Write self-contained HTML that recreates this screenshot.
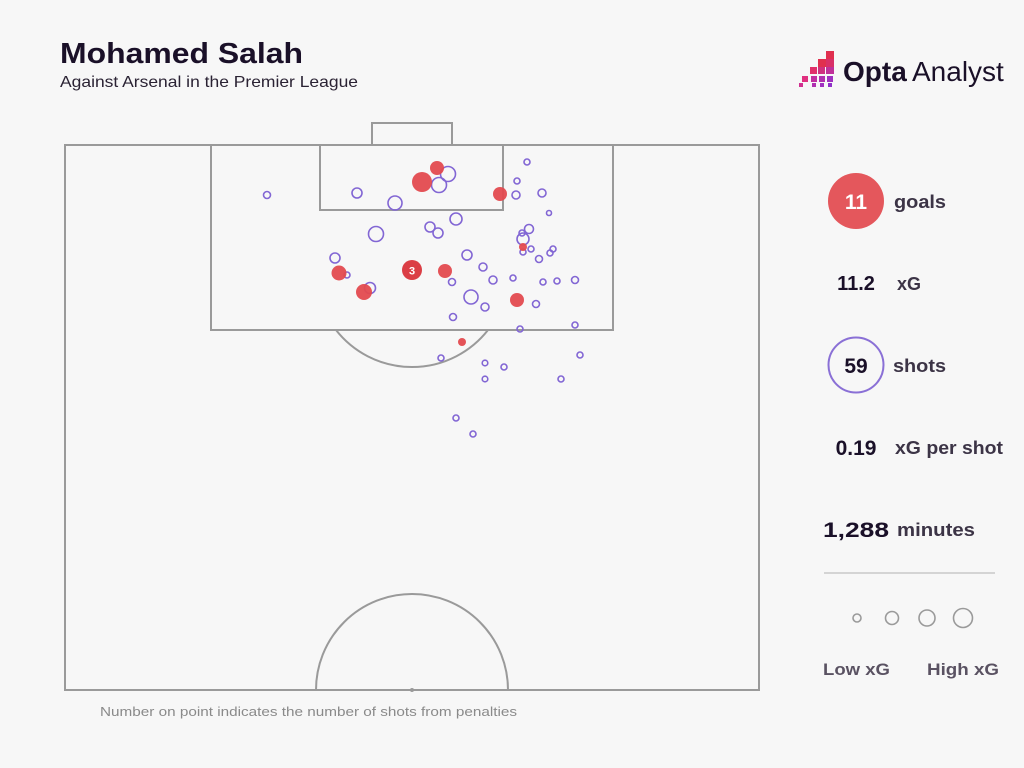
<!DOCTYPE html>
<html><head><meta charset="utf-8"><style>
body{margin:0;background:#f7f7f7;width:1024px;height:768px;overflow:hidden;font-family:"Liberation Sans",sans-serif;}
</style></head><body>
<svg width="1024" height="768" xmlns="http://www.w3.org/2000/svg" style="position:absolute;left:0;top:0">
<rect width="1024" height="768" fill="#f7f7f7"/>
<text x="60" y="63" font-size="29" font-weight="bold" fill="#1a1028" font-family="Liberation Sans" textLength="243" lengthAdjust="spacingAndGlyphs">Mohamed Salah</text>
<text x="60" y="87" font-size="16" fill="#2a2233" font-family="Liberation Sans" textLength="298" lengthAdjust="spacingAndGlyphs">Against Arsenal in the Premier League</text>
<g>
<rect x="826" y="51" width="8" height="8" fill="#e0304f"/>
<rect x="818" y="59" width="8" height="8" fill="#e0304f"/><rect x="826" y="59" width="8" height="8" fill="#d93068"/>
<rect x="810" y="67" width="7" height="7" fill="#e0306a"/><rect x="818" y="67" width="7" height="7" fill="#cf3080"/><rect x="826" y="67" width="8" height="7" fill="#c0309a"/>
<rect x="802" y="76" width="6" height="6" fill="#e03080"/><rect x="811" y="76" width="6" height="6" fill="#c030a0"/><rect x="819" y="76" width="6" height="6" fill="#b030b0"/><rect x="827" y="76" width="6" height="6" fill="#a030c0"/>
<rect x="799" y="83" width="4" height="4" fill="#d03090"/><rect x="812" y="83" width="4" height="4" fill="#b030b0"/><rect x="820" y="83" width="4" height="4" fill="#a030c0"/><rect x="828" y="83" width="4" height="4" fill="#9030c8"/>
</g>
<text x="843" y="81" font-size="28" font-weight="bold" fill="#1a1028" font-family="Liberation Sans">Opta</text>
<text x="912" y="81" font-size="28" fill="#1a1028" font-family="Liberation Sans">Analyst</text>
<g fill="none" stroke="#9a9a9a" stroke-width="2">
<rect x="65" y="145" width="694" height="545"/>
<rect x="211" y="145" width="402" height="185"/>
<rect x="320" y="145" width="183" height="65"/>
<rect x="372" y="123" width="80" height="22"/>
<path d="M336 330 A96.5 96.5 0 0 0 488 330"/>
<path d="M316 690 A96 96 0 0 1 508 690"/>
</g>
<circle cx="412" cy="690" r="2" fill="#9a9a9a"/>
<g fill="none" stroke="#8266d4" stroke-width="1.6">
<circle cx="267" cy="195" r="3.5"/><circle cx="357" cy="193" r="5"/><circle cx="395" cy="203" r="7"/>
<circle cx="448" cy="174" r="7.5"/><circle cx="439" cy="185" r="7.5"/><circle cx="527" cy="162" r="3"/>
<circle cx="517" cy="181" r="3"/><circle cx="516" cy="195" r="4"/><circle cx="542" cy="193" r="4"/>
<circle cx="549" cy="213" r="2.5"/><circle cx="456" cy="219" r="6"/><circle cx="430" cy="227" r="5"/>
<circle cx="438" cy="233" r="5"/><circle cx="376" cy="234" r="7.5"/><circle cx="529" cy="229" r="4.5"/>
<circle cx="522" cy="233" r="3"/><circle cx="523" cy="239" r="6"/><circle cx="531" cy="249" r="3"/>
<circle cx="523" cy="252" r="3"/><circle cx="553" cy="249" r="3"/><circle cx="550" cy="253" r="3"/>
<circle cx="539" cy="259" r="3.5"/><circle cx="467" cy="255" r="5"/><circle cx="335" cy="258" r="5"/>
<circle cx="483" cy="267" r="4"/><circle cx="347" cy="275" r="3"/><circle cx="452" cy="282" r="3.5"/>
<circle cx="493" cy="280" r="4"/><circle cx="513" cy="278" r="3"/><circle cx="543" cy="282" r="3"/>
<circle cx="557" cy="281" r="3"/><circle cx="575" cy="280" r="3.5"/><circle cx="370" cy="288" r="5.5"/>
<circle cx="471" cy="297" r="7"/><circle cx="485" cy="307" r="4"/><circle cx="536" cy="304" r="3.5"/>
<circle cx="453" cy="317" r="3.5"/><circle cx="520" cy="329" r="3"/><circle cx="575" cy="325" r="3"/>
<circle cx="580" cy="355" r="3"/><circle cx="441" cy="358" r="3"/><circle cx="485" cy="363" r="2.8"/>
<circle cx="504" cy="367" r="3"/><circle cx="485" cy="379" r="2.8"/><circle cx="561" cy="379" r="3"/>
<circle cx="456" cy="418" r="3"/><circle cx="473" cy="434" r="3"/>
</g>
<g fill="#e34a4f" fill-opacity="0.95">
<circle cx="422" cy="182" r="10"/><circle cx="437" cy="168" r="7"/><circle cx="500" cy="194" r="7"/>
<circle cx="523" cy="247" r="4"/><circle cx="339" cy="273" r="7.5"/><circle cx="364" cy="292" r="8"/>
<circle cx="445" cy="271" r="7"/><circle cx="517" cy="300" r="7"/><circle cx="462" cy="342" r="4"/>
<circle cx="412" cy="270" r="10" fill="#d9343b"/>
</g>
<text x="412" y="274.5" font-size="11" font-weight="bold" fill="#fff" text-anchor="middle" font-family="Liberation Sans">3</text>
<text x="100" y="716" font-size="13" fill="#8a8a8a" font-family="Liberation Sans" textLength="417" lengthAdjust="spacingAndGlyphs">Number on point indicates the number of shots from penalties</text>
<circle cx="856" cy="201" r="28" fill="#e4575c"/>
<text x="856" y="209" font-size="21" font-weight="bold" fill="#fff" text-anchor="middle" font-family="Liberation Sans">11</text>
<text x="894" y="208" font-size="18" font-weight="bold" fill="#3c3446" font-family="Liberation Sans" textLength="52" lengthAdjust="spacingAndGlyphs">goals</text>
<text x="856" y="290" font-size="20" font-weight="bold" fill="#1a1028" text-anchor="middle" font-family="Liberation Sans">11.2</text>
<text x="897" y="290" font-size="18" font-weight="bold" fill="#3c3446" font-family="Liberation Sans">xG</text>
<circle cx="856" cy="365" r="27.5" fill="none" stroke="#8a70d6" stroke-width="2"/>
<text x="856" y="373" font-size="21" font-weight="bold" fill="#1a1028" text-anchor="middle" font-family="Liberation Sans">59</text>
<text x="893" y="372" font-size="18" font-weight="bold" fill="#3c3446" font-family="Liberation Sans" textLength="53" lengthAdjust="spacingAndGlyphs">shots</text>
<text x="856" y="455" font-size="21" font-weight="bold" fill="#1a1028" text-anchor="middle" font-family="Liberation Sans">0.19</text>
<text x="895" y="454" font-size="18" font-weight="bold" fill="#3c3446" font-family="Liberation Sans" textLength="108" lengthAdjust="spacingAndGlyphs">xG per shot</text>
<text x="856" y="537" font-size="21" font-weight="bold" fill="#1a1028" text-anchor="middle" font-family="Liberation Sans" textLength="66" lengthAdjust="spacingAndGlyphs">1,288</text>
<text x="897" y="536" font-size="18" font-weight="bold" fill="#3c3446" font-family="Liberation Sans" textLength="78" lengthAdjust="spacingAndGlyphs">minutes</text>
<line x1="824" y1="573" x2="995" y2="573" stroke="#c8c8c8" stroke-width="1.5"/>
<g fill="none" stroke="#9a9a9a" stroke-width="1.6">
<circle cx="857" cy="618" r="4"/><circle cx="892" cy="618" r="6.5"/><circle cx="927" cy="618" r="8"/><circle cx="963" cy="618" r="9.5"/>
</g>
<text x="823" y="675" font-size="17" font-weight="bold" fill="#5a5262" font-family="Liberation Sans" textLength="67" lengthAdjust="spacingAndGlyphs">Low xG</text>
<text x="927" y="675" font-size="17" font-weight="bold" fill="#5a5262" font-family="Liberation Sans" textLength="72" lengthAdjust="spacingAndGlyphs">High xG</text>
</svg>
</body></html>
